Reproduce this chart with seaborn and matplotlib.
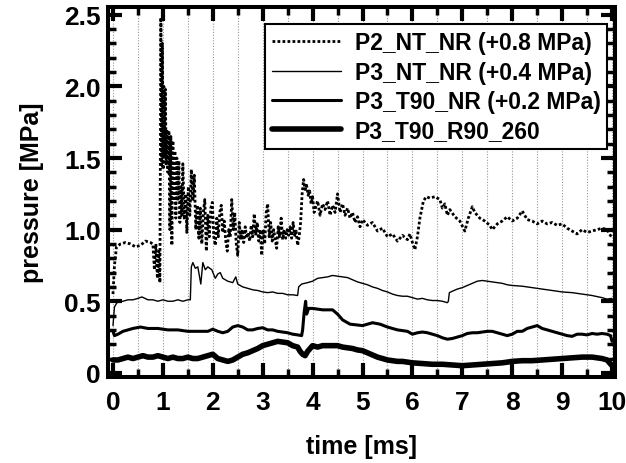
import numpy as np
import pandas as pd
import matplotlib
matplotlib.use("Agg")
import matplotlib.pyplot as plt
import seaborn as sns
from matplotlib.ticker import MultipleLocator

# ---- data ----
t_p2 = [0.0, 0.03, 0.07, 0.15, 0.25, 0.35, 0.45, 0.55, 0.65, 0.75, 0.8, 0.83, 0.86, 0.89, 0.92, 0.94,
        0.96, 0.975, 0.99, 1.005, 1.02, 1.035, 1.05, 1.065, 1.08, 1.10, 1.12, 1.14, 1.16, 1.18, 1.20,
        1.22, 1.24, 1.26, 1.28, 1.30, 1.32, 1.34, 1.36, 1.38, 1.40, 1.43, 1.46, 1.48, 1.51, 1.54, 1.57,
        1.60, 1.63, 1.66, 1.69, 1.72, 1.75, 1.78, 1.81, 1.84, 1.87, 1.90, 1.93, 1.96, 1.99, 2.02, 2.05,
        2.08, 2.11, 2.14, 2.17, 2.20, 2.23, 2.26, 2.29, 2.32, 2.35, 2.38, 2.41, 2.44, 2.47, 2.50, 2.53,
        2.56, 2.59, 2.62, 2.65, 2.68, 2.71, 2.74, 2.77, 2.80, 2.83, 2.86, 2.89, 2.92, 2.95, 2.98, 3.01,
        3.04, 3.07, 3.10, 3.13, 3.16, 3.19, 3.22, 3.25, 3.28, 3.31, 3.34, 3.37, 3.40, 3.43, 3.46, 3.49,
        3.52, 3.55, 3.58, 3.61, 3.64, 3.67, 3.70, 3.73, 3.76, 3.79, 3.82, 3.85, 3.88, 3.91, 3.94, 3.97,
        4.00, 4.03, 4.10, 4.15, 4.20, 4.25,
        4.30, 4.35, 4.40, 4.45, 4.50, 4.55, 4.60, 4.65, 4.70, 4.75, 4.80, 4.85, 4.90, 4.95, 5.00, 5.10,
        5.20, 5.30, 5.40, 5.50, 5.60, 5.70, 5.80, 5.90, 5.95, 6.00, 6.05, 6.10, 6.15, 6.22, 6.28, 6.35,
        6.45, 6.55, 6.60, 6.65, 6.70, 6.75, 6.85, 6.95, 7.05, 7.12, 7.20, 7.25, 7.35, 7.45, 7.55, 7.60,
        7.70, 7.80, 7.90, 8.00, 8.10, 8.20, 8.30, 8.40, 8.50, 8.60, 8.70, 8.80, 8.90, 9.00, 9.10, 9.20,
        9.30, 9.40, 9.50, 9.60, 9.70, 9.80, 9.90, 10.0]
p_p2 = [0.55, 0.75, 0.88, 0.90, 0.91, 0.90, 0.88, 0.89, 0.92, 0.91, 0.90, 0.72, 0.90, 0.66, 0.85, 0.63,
        2.48, 1.45, 2.30, 1.42, 2.00, 1.50, 1.98, 1.45, 1.70, 1.40, 1.69, 1.00, 1.65, 0.89, 1.62,
        1.20, 1.55, 1.08, 1.50, 1.20, 1.48, 1.05, 1.30, 1.10, 1.46, 1.07, 1.25, 0.98, 1.30, 1.10, 1.42,
        1.20, 1.38, 1.00, 1.17, 0.94, 1.15, 0.90, 1.12, 1.21, 0.85, 1.10, 0.95, 1.15, 1.19, 0.95, 0.89,
        1.08, 0.95, 1.12, 1.17, 0.98, 1.06, 0.92, 0.85, 1.00, 0.95, 1.21, 1.00, 1.12, 0.90, 0.82, 1.05,
        0.93, 1.00, 0.91, 1.02, 0.94, 0.98, 0.92, 1.03, 0.95, 1.11, 0.96, 1.05, 0.92, 1.00, 0.82, 1.00,
        0.90, 1.12, 1.18, 0.95, 1.05, 0.92, 1.00, 0.93, 0.87, 1.02, 0.95, 1.08, 0.93, 1.00, 0.94, 1.00,
        0.96, 1.02, 0.94, 1.05, 0.96, 0.99, 0.89, 0.95, 1.05, 1.25, 1.35, 1.28, 1.31, 1.24, 1.27, 1.18,
        1.23, 1.12, 1.20, 1.10, 1.18, 1.14,
        1.20, 1.10, 1.17, 1.12, 1.25, 1.12, 1.18, 1.10, 1.15, 1.08, 1.12, 1.05, 1.09, 1.02, 1.07, 1.03,
        1.05, 0.99, 1.01, 0.95, 0.97, 0.92, 0.96, 0.93, 0.97, 0.91, 0.86, 0.95, 1.08, 1.20, 1.23, 1.22,
        1.23, 1.21, 1.15, 1.18, 1.10, 1.14, 1.09, 1.06, 0.99, 1.08, 1.16, 1.12, 1.08, 1.06, 1.03, 1.00,
        1.04, 1.06, 1.09, 1.06, 1.08, 1.13, 1.07, 1.06, 1.04, 1.06, 1.04, 1.05, 1.03, 1.04, 1.01, 0.99,
        0.97, 1.00, 0.98, 0.99, 1.00, 1.01, 1.00, 0.94]

t_p3nt = [0.0, 0.03, 0.08, 0.2, 0.3, 0.4, 0.5, 0.58, 0.7, 0.8, 0.9, 1.0, 1.1, 1.2, 1.3, 1.4, 1.5, 1.55,
          1.57, 1.6, 1.65, 1.7, 1.76, 1.8, 1.85, 1.9, 1.98, 2.05, 2.1, 2.15, 2.2, 2.3, 2.4, 2.46, 2.5,
          2.6, 2.7, 2.8, 2.9, 3.0, 3.1, 3.2, 3.3, 3.4, 3.5, 3.6, 3.7, 3.72, 3.78, 3.9, 4.0, 4.1, 4.2,
          4.3, 4.4, 4.5, 4.6, 4.7, 4.8, 4.9, 5.0, 5.1, 5.2, 5.3, 5.4, 5.5, 5.6, 5.7, 5.8, 5.9, 6.0,
          6.1, 6.2, 6.3, 6.4, 6.5, 6.6, 6.7, 6.72, 6.74, 6.8, 6.9, 7.0, 7.1, 7.2, 7.3, 7.4, 7.5, 7.6,
          7.7, 7.8, 7.9, 8.0, 8.2, 8.4, 8.6, 8.8, 9.0, 9.2, 9.4, 9.6, 9.8, 9.9, 10.0]
p_p3nt = [0.33, 0.46, 0.49, 0.50, 0.51, 0.51, 0.52, 0.53, 0.51, 0.51, 0.50, 0.51, 0.50, 0.50, 0.51, 0.50, 0.51, 0.51,
          0.74, 0.77, 0.73, 0.74, 0.62, 0.77, 0.72, 0.74, 0.72, 0.66, 0.69, 0.70, 0.66, 0.64, 0.63, 0.67, 0.62,
          0.60, 0.59, 0.58, 0.575, 0.565, 0.56, 0.565, 0.555, 0.555, 0.545, 0.545, 0.54, 0.60, 0.62, 0.63, 0.64, 0.66, 0.665,
          0.67, 0.68, 0.675, 0.67, 0.665, 0.65, 0.635, 0.625, 0.615, 0.60, 0.59, 0.575, 0.565, 0.55, 0.54, 0.535, 0.535, 0.525,
          0.515, 0.52, 0.51, 0.505, 0.505, 0.50, 0.49, 0.50, 0.56, 0.57, 0.585, 0.595, 0.61, 0.625, 0.64, 0.645, 0.64, 0.635,
          0.63, 0.625, 0.615, 0.61, 0.605, 0.595, 0.585, 0.575, 0.565, 0.56, 0.55, 0.54, 0.525, 0.515, 0.52]

t_t90 = [0.0, 0.03, 0.1, 0.2, 0.3, 0.4, 0.55, 0.7, 0.9, 1.1, 1.3, 1.5, 1.7, 1.9, 2.0, 2.1, 2.2, 2.3,
         2.4, 2.5, 2.6, 2.7, 2.8, 2.9, 3.0, 3.1, 3.2, 3.3, 3.4, 3.5, 3.6, 3.7, 3.78, 3.8, 3.83, 3.86,
         3.88, 3.92, 4.0, 4.2, 4.4, 4.5, 4.6, 4.75, 5.0, 5.2, 5.35, 5.5, 5.7, 5.9, 6.0, 6.1, 6.2, 6.3,
         6.4, 6.5, 6.6, 6.7, 6.8, 6.9, 7.0, 7.1, 7.2, 7.3, 7.4, 7.5, 7.6, 7.7, 7.8, 7.9, 8.0, 8.1, 8.2,
         8.3, 8.4, 8.5, 8.6, 8.7, 8.8, 8.9, 9.0, 9.1, 9.2, 9.3, 9.4, 9.5, 9.6, 9.7, 9.8, 9.9, 9.97, 10.0]
p_t90 = [0.29, 0.26, 0.27, 0.29, 0.30, 0.31, 0.32, 0.31, 0.31, 0.30, 0.30, 0.29, 0.29, 0.29, 0.305, 0.29, 0.28, 0.29,
         0.32, 0.33, 0.32, 0.30, 0.30, 0.31, 0.315, 0.30, 0.30, 0.29, 0.285, 0.28, 0.27, 0.265, 0.26, 0.30, 0.42, 0.50,
         0.41, 0.45, 0.45, 0.44, 0.44, 0.41, 0.37, 0.34, 0.33, 0.35, 0.34, 0.32, 0.30, 0.29, 0.27, 0.28, 0.285, 0.28,
         0.27, 0.26, 0.245, 0.235, 0.24, 0.25, 0.26, 0.275, 0.28, 0.28, 0.285, 0.29, 0.29, 0.28, 0.27, 0.26, 0.27, 0.29, 0.29,
         0.31, 0.32, 0.33, 0.31, 0.30, 0.29, 0.28, 0.27, 0.26, 0.255, 0.27, 0.27, 0.265, 0.275, 0.27, 0.275, 0.27, 0.26, 0.22]

t_r90 = [0.0, 0.1, 0.2, 0.3, 0.4, 0.5, 0.6, 0.7, 0.8, 0.9, 1.0, 1.1, 1.2, 1.3, 1.4, 1.5, 1.6, 1.7, 1.8,
         1.9, 2.0, 2.1, 2.2, 2.3, 2.4, 2.5, 2.6, 2.7, 2.8, 2.9, 3.0, 3.1, 3.2, 3.3, 3.4, 3.5, 3.6, 3.7,
         3.75, 3.8, 3.85, 3.9, 4.0, 4.1, 4.2, 4.3, 4.4, 4.5, 4.6, 4.7, 4.8, 4.9, 5.0, 5.1, 5.2, 5.3,
         5.4, 5.5, 5.6, 5.7, 5.8, 5.9, 6.0, 6.2, 6.4, 6.6, 6.8, 7.0, 7.2, 7.4, 7.6, 7.8, 8.0, 8.2,
         8.4, 8.6, 8.8, 9.0, 9.2, 9.4, 9.6, 9.8, 9.9, 10.0]
p_r90 = [0.09, 0.09, 0.10, 0.11, 0.10, 0.11, 0.12, 0.11, 0.11, 0.12, 0.11, 0.10, 0.11, 0.10, 0.10, 0.11, 0.10, 0.10, 0.11,
         0.12, 0.13, 0.10, 0.09, 0.08, 0.09, 0.11, 0.13, 0.14, 0.155, 0.17, 0.19, 0.20, 0.21, 0.22, 0.215, 0.21, 0.19, 0.18,
         0.15, 0.13, 0.12, 0.15, 0.19, 0.18, 0.19, 0.19, 0.19, 0.19, 0.18, 0.175, 0.17, 0.16, 0.155, 0.14, 0.125, 0.11,
         0.10, 0.09, 0.085, 0.08, 0.08, 0.075, 0.07, 0.065, 0.06, 0.06, 0.055, 0.05, 0.055, 0.06, 0.065, 0.07, 0.08, 0.085,
         0.085, 0.09, 0.095, 0.10, 0.105, 0.11, 0.11, 0.10, 0.09, 0.05]

labels = ["P2_NT_NR (+0.8 MPa)", "P3_NT_NR (+0.4 MPa)", "P3_T90_NR (+0.2 MPa)", "P3_T90_R90_260"]
x_ticks = list(range(0, 11))
y_ticks = [0, 0.5, 1.0, 1.5, 2.0, 2.5]
y_ticklabels = ["0", "0.5", "1.0", "1.5", "2.0", "2.5"]

# ---- style ----
sns.set_style("ticks")
plt.rcParams['font.family'] = ['Liberation Sans', 'DejaVu Sans']
plt.rcParams['font.weight'] = 'bold'
plt.rcParams['text.color'] = 'black'
plt.rcParams['axes.labelcolor'] = 'black'
plt.rcParams['xtick.color'] = 'black'
plt.rcParams['ytick.color'] = 'black'
plt.rcParams['xtick.labelcolor'] = 'black'
plt.rcParams['ytick.labelcolor'] = 'black'

fig = plt.figure(figsize=(6.26, 4.64), dpi=100)
ax = fig.add_axes([0.1725, 0.185, 0.81, 0.798])

series = [(t_p2, p_p2, (0, (1, 0.8)), 2.0),
          (t_p3nt, p_p3nt, '-', 1.0),
          (t_t90, p_t90, '-', 2.2),
          (t_r90, p_r90, '-', 4.0)]

for (tt, pp, ls, lw), lab in zip(series, labels):
    df = pd.DataFrame({"time": tt, "pressure": pp})
    sns.lineplot(data=df, x="time", y="pressure", ax=ax, color="black",
                 linestyle=ls, linewidth=lw, label=lab, estimator=None, sort=False)

ax.set_xlim(-0.1, 10.06)
ax.set_ylim(-0.03, 2.555)
ax.set_xticks(x_ticks)
ax.set_yticks(y_ticks)
ax.set_yticklabels(y_ticklabels)
ax.xaxis.set_minor_locator(MultipleLocator(0.5))
ax.yaxis.set_minor_locator(MultipleLocator(0.1))

for xv in np.arange(0, 10.01, 0.5):
    ax.axvline(xv, color="#999999", linestyle=(0, (1, 1.5)), linewidth=0.8, zorder=0)

for sp in ax.spines.values():
    sp.set_linewidth(2.9)
    sp.set_color("black")
    sp.set_visible(True)

ax.tick_params(which='major', direction='in', length=10, width=3.0, top=True, right=True,
               labelsize=19, colors='black')
ax.tick_params(axis='x', which='major', pad=9)
ax.tick_params(axis='y', which='major', pad=5)
ax.tick_params(which='minor', direction='in', length=6, width=2.5, top=True, right=True, colors='black')
for lab in ax.get_xticklabels() + ax.get_yticklabels():
    lab.set_fontweight('bold')
    lab.set_color('black')

ax.set_xlabel("time [ms]", fontsize=18, fontweight='bold', labelpad=15, color='black')
ax.set_ylabel("pressure [MPa]", fontsize=18, fontweight='bold', labelpad=15, color='black')

leg = ax.legend(loc='upper right', bbox_to_anchor=(0.985, 0.953),
                frameon=True, fancybox=False, framealpha=1, edgecolor='black',
                handlelength=3.0, handletextpad=0.6, borderpad=0.3, labelspacing=0.28,
                borderaxespad=0.0, prop={'weight': 'bold', 'size': 16.5})
leg.get_frame().set_linewidth(1.5)
for txt in leg.get_texts():
    txt.set_color('black')

fig.savefig("out.png", dpi=100)
